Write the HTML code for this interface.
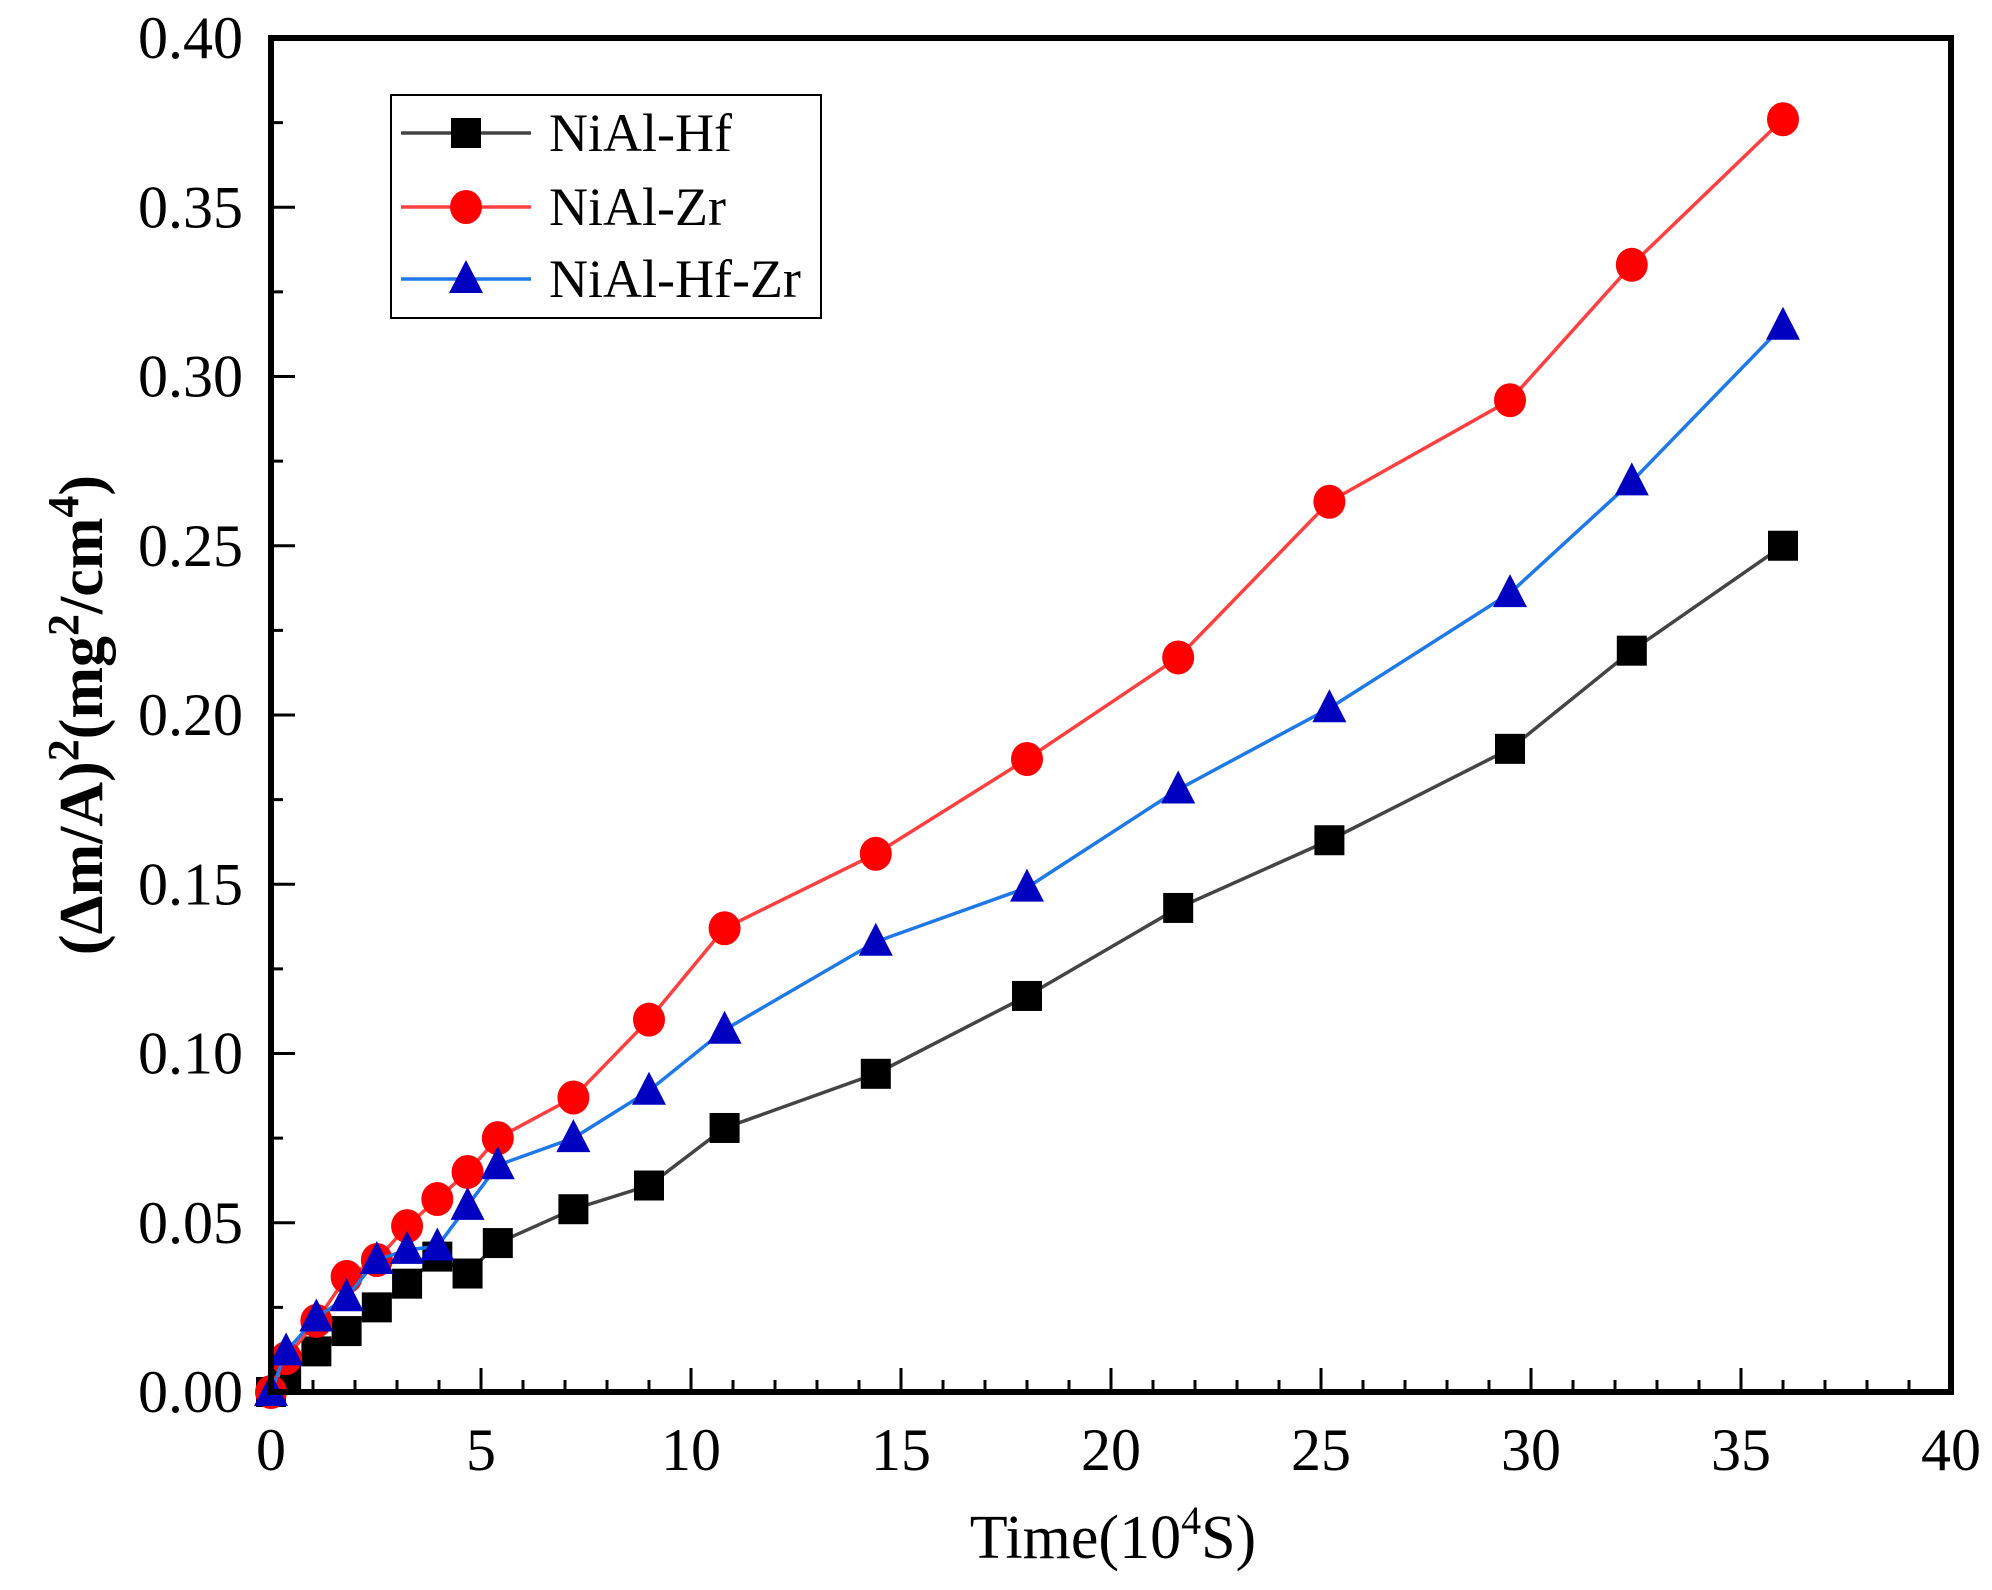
<!DOCTYPE html>
<html><head><meta charset="utf-8"><style>
html,body{margin:0;padding:0;background:#fff;}
svg{display:block;font-family:"Liberation Serif","Times New Roman",serif;}
</style></head><body>
<svg id="chart" width="1992" height="1590" viewBox="0 0 1992 1590" xmlns="http://www.w3.org/2000/svg" font-family="Liberation Serif, serif">
<g id="grid-layer"></g>
</svg>
<script>
const times = [0,0.36,1.08,1.8,2.52,3.24,3.96,4.68,5.4,7.2,9,10.8,14.4,18,21.6,25.2,29.5,32.4,36];
const hfValues = [0,0.005,0.012,0.018,0.025,0.032,0.040,0.035,0.044,0.054,0.061,0.078,0.094,0.117,0.143,0.163,0.190,0.219,0.250];
const zrValues = [0,0.010,0.021,0.034,0.039,0.049,0.057,0.065,0.075,0.087,0.110,0.137,0.159,0.187,0.217,0.263,0.293,0.333,0.376];
const hfzrValues = [0,0.012,0.022,0.028,0.039,0.042,0.043,0.055,0.067,0.075,0.089,0.107,0.133,0.149,0.178,0.202,0.236,0.269,0.315];
const xTickLabels = ["0","5","10","15","20","25","30","35","40"];
const yTickLabels = ["0.00","0.05","0.10","0.15","0.20","0.25","0.30","0.35","0.40"];

const L=271,R=1951,T=38,B=1392;
const xs=v=>L+(v/40)*(R-L);
const ys=v=>B-(v/0.4)*(B-T);
const NS="http://www.w3.org/2000/svg";
const svg=document.getElementById('chart');
function mk(tag,attrs,parent){const e=document.createElementNS(NS,tag);for(const k in attrs)e.setAttribute(k,attrs[k]);(parent||svg).appendChild(e);return e;}

for(let i=0;i<=40;i++){
  const x=xs(i);const major=i%5===0;
  const t=mk('line',{x1:x,x2:x,y1:B,y2:B-(major?24:12),stroke:'#000','stroke-width':3});
  
  
}
xTickLabels.forEach((lab,i)=>{
  const t=mk('text',{x:xs(i*5),y:1470,'text-anchor':'middle','font-size':60,'font-family':'Liberation Serif, serif'});
  t.textContent=lab;
  
  
});
for(let i=0;i<=16;i++){
  const y=ys(i*0.025);const major=i%2===0;
  const t=mk('line',{x1:L,x2:L+(major?24:12),y1:y,y2:y,stroke:'#000','stroke-width':3});
  
  
}
yTickLabels.forEach((lab,i)=>{
  const t=mk('text',{x:243,y:ys(i*0.05)+20,'text-anchor':'end','font-size':60,'font-family':'Liberation Serif, serif'});
  t.textContent=lab;
  
  
});

function series(vals,color,lineColor,marker,name){
  const g=mk('g',{});
  
  
  const pts=times.map((t,i)=>xs(t)+','+ys(vals[i])).join(' ');
  const pl=mk('polyline',{points:pts,fill:'none',stroke:lineColor,'stroke-width':3.5},g);
  
  
  times.forEach((t,i)=>{
    const m=drawMarker(marker,xs(t),ys(vals[i]),color,g);
    
    
  });
}
function drawMarker(type,x,y,color,parent){
  if(type==='square')return mk('rect',{x:x-15,y:y-15,width:30,height:30,fill:color},parent);
  if(type==='circle')return mk('ellipse',{cx:x,cy:y,rx:16,ry:17,fill:color},parent);
  return mk('polygon',{points:`${x},${y-19} ${x-17},${y+14} ${x+17},${y+14}`,fill:color},parent);
}
series(hfValues,'#000','#444','square','nial-hf');
series(zrValues,'#ff0000','#ff4040','circle','nial-zr');
series(hfzrValues,'#0000c0','#1e78e6','triangle','nial-hf-zr');

const fr=mk('rect',{x:L,y:T,width:R-L,height:B-T,fill:'none',stroke:'#000','stroke-width':6});



const lg=mk('g',{});


mk('rect',{x:391,y:95,width:430,height:223,fill:'#fff',stroke:'#000','stroke-width':2},lg);
const leg=[['NiAl-Hf','#000','#444','square',133],['NiAl-Zr','#ff0000','#ff4040','circle',207],['NiAl-Hf-Zr','#0000c0','#1e78e6','triangle',279]];
leg.forEach(([lab,c,lc,m,y])=>{
  const e=mk('g',{},lg);
  
  
  mk('line',{x1:401,x2:531,y1:y,y2:y,stroke:lc,'stroke-width':3.5},e);
  drawMarker(m,466,y,c,e);
  const t=mk('text',{x:549,y:y+18,'font-size':54,'font-family':'Liberation Serif, serif'},e);
  t.textContent=lab;
});

const xt=mk('text',{x:1113,y:1558,'text-anchor':'middle','font-size':62,'font-family':'Liberation Serif, serif'});


xt.innerHTML='Time(10<tspan dy="-24" font-size="40">4</tspan><tspan dy="24">S)</tspan>';
const yt=mk('text',{x:0,y:0,'text-anchor':'middle','font-size':62,'font-weight':'bold','font-family':'Liberation Serif, serif',transform:'translate(102,715) rotate(-90)'});


yt.innerHTML='(Δm/A)<tspan dy="-24" font-size="44">2</tspan><tspan dy="24">(mg</tspan><tspan dy="-24" font-size="44">2</tspan><tspan dy="24">/cm</tspan><tspan dy="-24" font-size="44">4</tspan><tspan dy="24">)</tspan>';
</script>
</body></html>
